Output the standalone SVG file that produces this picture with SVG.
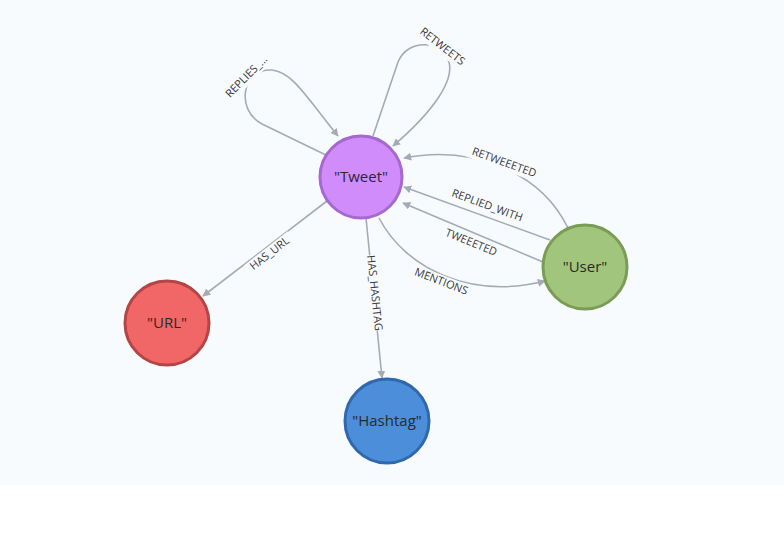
<svg xmlns="http://www.w3.org/2000/svg" width="784" height="560" viewBox="0 0 784 560">
<defs>
<style>
.e{fill:none;stroke:#a5abb6;stroke-width:1.6}
.l{font-family:"Open Sans","Liberation Sans",sans-serif;font-size:11px;fill:#3a3a3a;text-anchor:middle;dominant-baseline:middle}
.bg{fill:#f8fbfe}
.n{font-family:"Open Sans","Liberation Sans",sans-serif;font-size:15px;fill:#2a2a2a;text-anchor:middle;dominant-baseline:middle}
</style>
<marker id="a" viewBox="0 0 10 10" refX="9" refY="5" markerWidth="8" markerHeight="8" markerUnits="userSpaceOnUse" orient="auto"><path d="M0,0 L10,5 L0,10 z" fill="#a5abb6"/></marker>
</defs>
<rect x="0" y="0" width="784" height="485" fill="#f8fbfe"/>
<rect x="0" y="485" width="784" height="75" fill="#ffffff"/>
<g id="connectors">
<path class="e" d="M327,201 L203,296" marker-end="url(#a)"/>
<path class="e" d="M366,218 L382,378" marker-end="url(#a)"/>
<path class="e" d="M379,218 C405,268 470,300 545,281" marker-end="url(#a)"/>
<path class="e" d="M543,262 L403,203" marker-end="url(#a)"/>
<path class="e" d="M550,240 L404,187" marker-end="url(#a)"/>
<path class="e" d="M568,228 C540,170 470,145 404,158" marker-end="url(#a)"/>
<path class="e" d="M330,157 L262,124 C235,110 242,68 272,70 C292,72 305,95 338,136" marker-end="url(#a)"/>
<path class="e" d="M373,136 L398,62 C408,38 442,40 449,62 C454,80 435,110 393,146" marker-end="url(#a)"/>
<g transform="translate(270,254) rotate(-38)"><rect class="bg" x="-28" y="-7" width="56" height="14"/><text class="l">HAS_URL</text></g>
<g transform="translate(374,293) rotate(84)"><rect class="bg" x="-38" y="-7" width="76" height="14"/><text class="l">HAS_HASHTAG</text></g>
<g transform="translate(441,282) rotate(21)"><rect class="bg" x="-34" y="-7" width="68" height="14"/><text class="l">MENTIONS</text></g>
<g transform="translate(471,243) rotate(22)"><rect class="bg" x="-36" y="-7" width="72" height="14"/><text class="l">TWEEETED</text></g>
<g transform="translate(487,206) rotate(20)"><rect class="bg" x="-47" y="-7" width="94" height="14"/><text class="l">REPLIED_WITH</text></g>
<g transform="translate(504,163) rotate(20)"><rect class="bg" x="-46" y="-7" width="92" height="14"/><text class="l">RETWEEETED</text></g>
<g transform="translate(247,77) rotate(-45)"><rect class="bg" x="-30" y="-7" width="60" height="14"/><text class="l">REPLIES_...</text></g>
<g transform="translate(442,47) rotate(38)"><rect class="bg" x="-34" y="-7" width="68" height="14"/><text class="l">RETWEETS</text></g>
</g>
<g id="tweet"><circle cx="361" cy="177" r="41" fill="#d08cfb" stroke="#a569cf" stroke-width="3"/><text class="n" x="361" y="178">"Tweet"</text></g>
<g id="user"><circle cx="585" cy="267" r="42" fill="#a1c57c" stroke="#7a9d55" stroke-width="3"/><text class="n" x="585" y="268">"User"</text></g>
<g id="url"><circle cx="167" cy="323" r="42" fill="#f16667" stroke="#b54545" stroke-width="3"/><text class="n" x="167" y="324">"URL"</text></g>
<g id="hashtag"><circle cx="387" cy="421" r="42" fill="#4c8eda" stroke="#2f68ad" stroke-width="3"/><text class="n" x="387" y="422">"Hashtag"</text></g>
</svg>
